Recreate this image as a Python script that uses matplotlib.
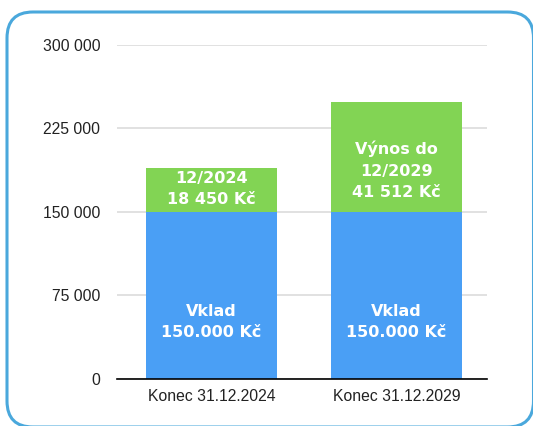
import matplotlib.pyplot as plt
from matplotlib.patches import FancyBboxPatch
from matplotlib.ticker import FuncFormatter

categories = ['Konec 31.12.2024', 'Konec 31.12.2029']
deposit = [150000, 150000]
gain = [39500, 98500]
deposit_labels = ['Vklad\n150.000 Kč', 'Vklad\n150.000 Kč']
gain_labels = ['12/2024\n18 450 Kč', 'Výnos do\n12/2029\n41 512 Kč']
deposit_label_y = [51000, 51000]
gain_label_y = [170500, 187000]
yticks = [0, 75000, 150000, 225000, 300000]

blue = '#4a9ff5'
green = '#82d454'

W, H = 533, 426
fig = plt.figure(figsize=(W / 100, H / 100), dpi=100)

# rounded frame around the chart
frame = FancyBboxPatch((7 / W, -1 / H), 526.5 / W, 415 / H,
                       boxstyle='round,pad=0,rounding_size=%f' % (26 / W),
                       mutation_aspect=W / H,
                       transform=fig.transFigure, fill=False,
                       edgecolor='#4aa8dc', linewidth=2.2, clip_on=False)
fig.patches.append(frame)

ax = fig.add_axes([117 / W, 47 / H, 370 / W, 334.5 / H])
x = range(len(categories))
ax.bar(x, deposit, width=0.71, color=blue, zorder=2)
ax.bar(x, gain, width=0.71, bottom=deposit, color=green, zorder=2)

for i in x:
    ax.text(i, deposit_label_y[i], deposit_labels[i], ha='center', va='center',
            color='white', fontsize=11.5, fontweight='bold', linespacing=1.55,
            zorder=3)
    ax.text(i, gain_label_y[i], gain_labels[i], ha='center', va='center',
            color='white', fontsize=11.5, fontweight='bold', linespacing=1.55,
            zorder=3)

ax.set_xlim(-0.51, 1.49)
ax.set_ylim(0, 300000)
ax.set_yticks(yticks)
ax.yaxis.set_major_formatter(FuncFormatter(lambda v, p: f'{int(v):,}'.replace(',', ' ')))
ax.set_xticks(list(x))
ax.set_xticklabels(categories)
ax.grid(axis='y', color='#dcdcdc', linewidth=1.2, zorder=0)
for s in ['top', 'right', 'left']:
    ax.spines[s].set_visible(False)
ax.spines['bottom'].set_color('black')
ax.spines['bottom'].set_linewidth(1.2)
ax.spines['bottom'].set_zorder(4)
ax.tick_params(axis='both', length=0, labelsize=11.3, colors='#222222')
ax.tick_params(axis='y', pad=12)
ax.tick_params(axis='x', pad=7)
for lab in ax.get_xticklabels() + ax.get_yticklabels():
    lab.set_family('Liberation Sans')

fig.savefig('out.png', dpi=100)
